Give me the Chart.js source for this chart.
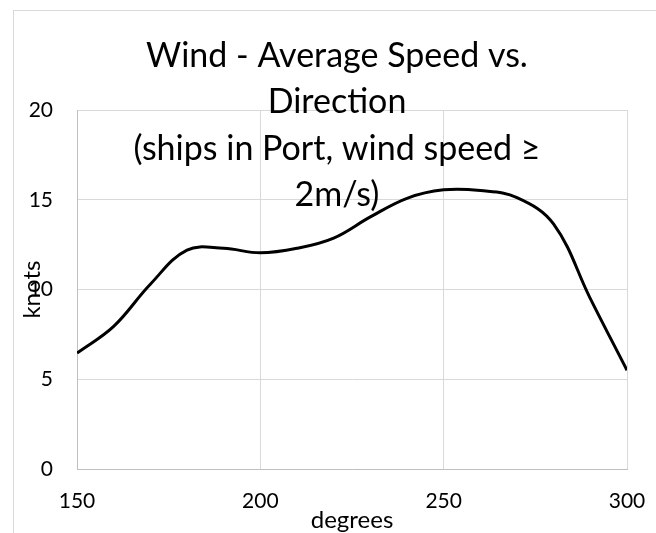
<!DOCTYPE html>
<html>
<head>
<meta charset="utf-8">
<title>Wind - Average Speed vs. Direction</title>
<script src="https://cdn.jsdelivr.net/npm/chart.js@4.4.1/dist/chart.umd.min.js"></script>
<style>
    html, body { margin: 0; padding: 0; background: #fff; overflow: hidden; }
    body { width: 656px; height: 533px; position: relative; }
    /* chart frame — only its left and top edges fall inside the window */
    .chart-frame {
        position: absolute;
        left: 13px;
        top: 10px;
        border-left: 1px solid #d9d9d9;
        border-top: 1px solid #d9d9d9;
        width: 646px;
        height: 522px;
    }
    .chart-frame canvas { display: block; }
</style>
</head>
<body>
<div class="chart-frame">
    <canvas id="windChart" width="646" height="522"></canvas>
</div>
<script>
/* ─── Data ─── */
const directionDeg = [150, 160, 170, 180, 190, 200, 210, 220, 230, 240, 250, 260, 270, 280, 290, 300];
const avgSpeedKnots = [6.46, 7.95, 10.3, 12.2, 12.3, 12.05, 12.3, 12.87, 14.05, 15.09, 15.56, 15.52, 15.13, 13.65, 9.5, 5.5];
const xTicks = [150, 200, 250, 300];
const yTicks = [0, 5, 10, 15, 20];
const titleLines = ['Wind - Average Speed vs.', 'Direction', '(ships in Port, wind speed \u2265', '2m/s)'];

(function () {
    'use strict';

    const FONT = 'Lato, "Open Sans", sans-serif';
    const GRID = '#d9d9d9';
    const AXIS = '#bfbfbf';

    const points = directionDeg.map(function (d, i) {
        return { x: d, y: avgSpeedKnots[i] };
    });

    /* ─── Centre the title on the whole frame, not on the padded width ─── */
    const centreTitleOnFrame = {
        id: 'centreTitleOnFrame',
        afterLayout: function (chart) {
            const t = chart.titleBlock;
            if (!t) return;
            t.left = 0;
            t.right = chart.width;
            t.width = chart.width;
        }
    };

    new Chart(document.getElementById('windChart').getContext('2d'), {
        type: 'line',
        data: {
            datasets: [{
                label: 'Average speed',
                data: points,
                borderColor: '#000000',
                borderWidth: 3,
                tension: 0.38,
                pointRadius: 0,
                pointHoverRadius: 0,
                fill: false
            }]
        },
        plugins: [centreTitleOnFrame],
        options: {
            responsive: false,
            animation: false,
            events: [],
            layout: { padding: { left: 0, right: 33, top: 0, bottom: 0 } },
            plugins: {
                legend: { display: false },
                tooltip: { enabled: false },
                title: {
                    display: true,
                    text: titleLines,
                    color: '#000000',
                    font: { family: FONT, size: 34, weight: 'normal', lineHeight: '46.3px' },
                    /* the title overlaps the plot, as in the reference */
                    padding: { top: 22, bottom: -108 }
                }
            },
            scales: {
                x: {
                    type: 'linear',
                    min: xTicks[0],
                    max: xTicks[xTicks.length - 1],
                    afterBuildTicks: function (axis) {
                        axis.ticks = xTicks.map(function (v) { return { value: v }; });
                    },
                    afterFit: function (axis) { axis.height = 64; },
                    /* invisible tick marks push the labels down without widening the side padding */
                    grid: { color: GRID, lineWidth: 1, drawTicks: true, tickLength: 20, tickColor: 'rgba(0,0,0,0)' },
                    border: { color: AXIS, width: 1 },
                    ticks: {
                        color: '#000000',
                        font: { family: FONT, size: 21 },
                        padding: 0,
                        maxRotation: 0
                    },
                    title: {
                        display: true,
                        text: 'degrees',
                        color: '#000000',
                        font: { family: FONT, size: 24 },
                        padding: { top: 0, bottom: -2 }
                    }
                },
                y: {
                    min: yTicks[0],
                    max: yTicks[yTicks.length - 1],
                    afterBuildTicks: function (axis) {
                        axis.ticks = yTicks.map(function (v) { return { value: v }; });
                    },
                    afterFit: function (axis) { axis.width = 63; },
                    grid: { color: GRID, lineWidth: 1, drawTicks: false },
                    border: { color: AXIS, width: 1 },
                    ticks: {
                        color: '#000000',
                        font: { family: FONT, size: 21 },
                        padding: 24
                    },
                    title: {
                        display: true,
                        text: 'knots',
                        color: '#000000',
                        font: { family: FONT, size: 24 },
                        padding: { top: 4, bottom: 0 }
                    }
                }
            }
        }
    });
})();
</script>
</body>
</html>
